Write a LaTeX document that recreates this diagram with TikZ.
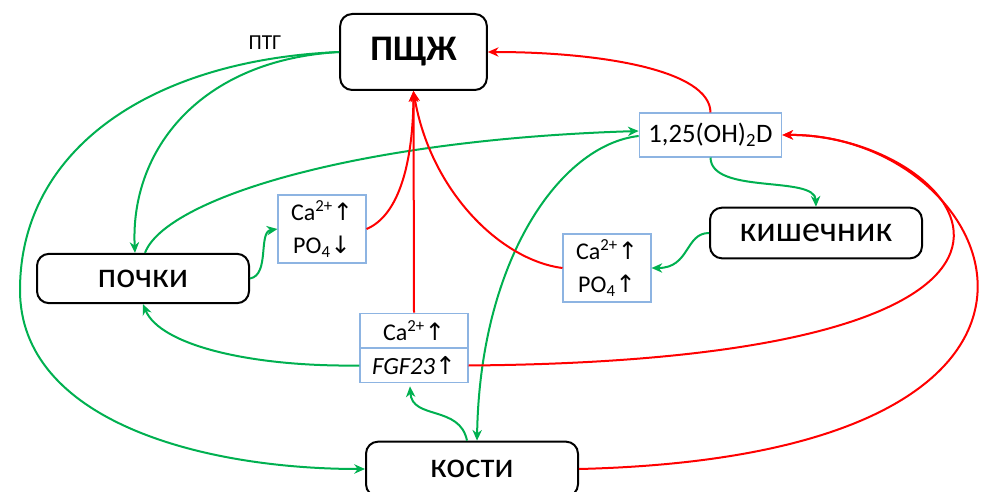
\documentclass[tikz,border=0pt]{standalone}
\usepackage{fontspec}
\setmainfont{Carlito}
\newfontfamily\arrfont{DejaVu Sans}
\usetikzlibrary{arrows.meta,calc}
\definecolor{gline}{RGB}{0,176,80}
\definecolor{rline}{RGB}{255,0,0}
\definecolor{bbord}{RGB}{141,180,226}
\newcommand{\up}{{\arrfont\char"2191}}
\newcommand{\dn}{{\arrfont\char"2193}}
\tikzset{
  organ/.style={draw=black,line width=1.5pt,rounded corners=9pt,inner sep=0pt,font=\fontsize{27}{30}\selectfont},
  infobox/.style={draw=bbord,line width=0.8pt,inner sep=0pt,fill=white},
  garr/.style={draw=gline,line width=1.5pt,-{Stealth[length=8pt,width=7pt,inset=2.5pt]}},
  rarr/.style={draw=rline,line width=1.5pt,-{Stealth[length=8pt,width=7pt,inset=2.5pt]}}
}
\begin{document}
\begin{tikzpicture}[x=0.75pt,y=-0.75pt]
\useasboundingbox (0,0) rectangle (986,492);
% nodes
\node[organ,minimum width=110pt,minimum height=57pt,font=\fontsize{27}{30}\selectfont\bfseries] (pshg) at (413.5,52) {ПЩЖ};
\node[infobox,minimum width=107pt,minimum height=33pt,font=\fontsize{20}{24}\selectfont] (vitd) at (710.5,135) {1,25(OH)\textsubscript{2}D};
\node[organ,minimum width=159pt,minimum height=38pt] (kish) at (816,233) {кишечник};
\node[organ,minimum width=159pt,minimum height=37pt] (pochki) at (143,278.5) {почки};
\node[organ,minimum width=159pt,minimum height=41pt] (kosti) at (472,469) {кости};
\node[infobox,minimum width=66pt,minimum height=51pt,align=center,font=\fontsize{18}{25}\selectfont] (boxa) at (322,229) {Ca\textsuperscript{2+}\up\\PO\textsubscript{4}\dn};
\node[infobox,minimum width=66pt,minimum height=51pt,align=center,font=\fontsize{18}{25}\selectfont] (boxb) at (607,268) {Ca\textsuperscript{2+}\up\\PO\textsubscript{4}\up};
\node[infobox,minimum width=81pt,minimum height=26pt,font=\fontsize{18}{20}\selectfont] (ca3) at (414,330.5) {Ca\textsuperscript{2+}\up};
\node[infobox,minimum width=81pt,minimum height=26pt,font=\fontsize{18.5}{20}\selectfont] (fgf) at (414,365.5) {\textit{FGF23}\up};
\node[font=\fontsize{16}{18}\selectfont] (ptg) at (265,43) {ПТГ};
% green connectors
\draw[garr] (pshg.west) .. controls (150,60) and (20,150) .. (20,290) .. controls (20,420) and (200,469) .. (kosti.west);
\draw[garr] (pshg.west) .. controls (200,60) and (130,150) .. ($(pochki.north)+(-8,0)$);
\draw[garr] ($(pochki.north)+(2,0)$) .. controls (165,200) and (350,140) .. ($(vitd.west)+(0,-4)$);
\draw[garr] (pochki.east) .. controls (270,275) and (258,232) .. (boxa.west);
\draw[garr] (vitd.south) .. controls (711,195) and (815,175) .. (kish.north);
\draw[garr] (kish.west) .. controls (685,233) and (690,268) .. (boxb.east);
\draw[garr] ($(vitd.west)+(0,1)$) .. controls (560,145) and (480,260) .. ($(kosti.north)+(5,0)$);
\draw[garr] ($(kosti.north)+(-5,0)$) .. controls (460,405) and (412,420) .. ($(fgf.south)+(-4,3)$);
\draw[garr] (fgf.west) .. controls (250,367) and (160,345) .. (pochki.south);
% red connectors
\draw[rarr] (vitd.north) .. controls (710,70) and (600,52) .. (pshg.east);
\draw[rarr] (boxa.east) .. controls (400,215) and (413,160) .. (pshg.south);
\draw[rarr] (ca3.north) -- (pshg.south);
\draw[rarr] (boxb.west) .. controls (500,260) and (430,190) .. (pshg.south);
\draw[rarr] (fgf.east) .. controls (1160,360) and (960,133) .. (vitd.east);
\draw[rarr] (kosti.east) .. controls (1150,455) and (1000,133) .. (vitd.east);
\end{tikzpicture}
\end{document}
